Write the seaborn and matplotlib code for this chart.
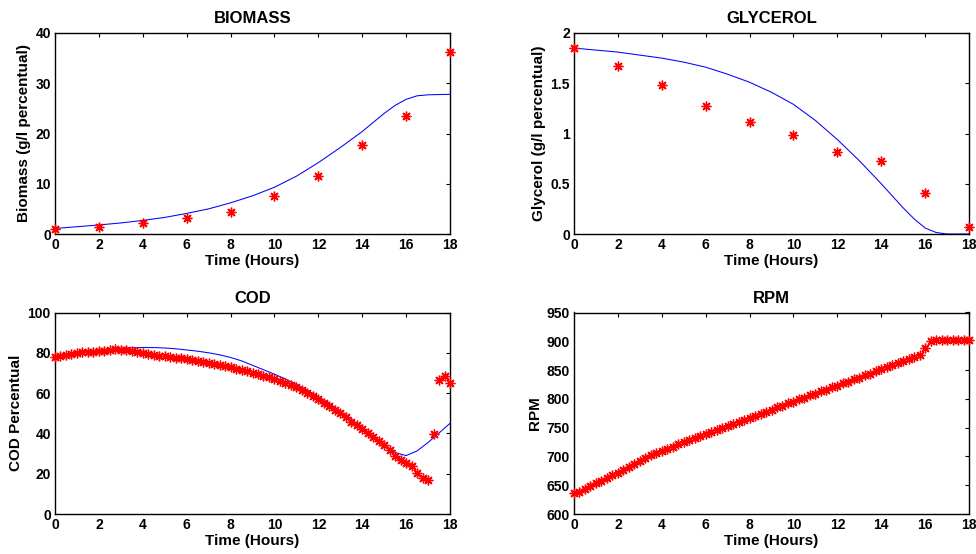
import numpy as np
import pandas as pd
import matplotlib
matplotlib.use("Agg")
import matplotlib.pyplot as plt
import seaborn as sns

# Sampling times (hours)
t_meas = [0, 2, 4, 6, 8, 10, 12, 14, 16, 18]
t_online = [0, 0.25, 0.5, 0.75, 1, 1.25, 1.5, 1.75, 2, 2.25, 2.5, 2.75, 3, 3.25, 3.5, 3.75,
            4, 4.25, 4.5, 4.75, 5, 5.25, 5.5, 5.75, 6, 6.25, 6.5, 6.75, 7, 7.25, 7.5, 7.75,
            8, 8.25, 8.5, 8.75, 9, 9.25, 9.5, 9.75, 10, 10.25, 10.5, 10.75, 11, 11.25, 11.5,
            11.75, 12, 12.25, 12.5, 12.75, 13, 13.25, 13.5, 13.75, 14, 14.25, 14.5, 14.75,
            15, 15.25, 15.5, 15.75, 16, 16.25, 16.5, 16.75, 17, 17.25, 17.5, 17.75, 18]

# Biomass
biomass_meas = [0.93, 1.33, 2.26, 3.26, 4.32, 7.5, 11.5, 17.7, 23.4, 36.3]
t_biomass_model = [0, 1, 2, 3, 4, 5, 6, 7, 8, 9, 10, 11, 12, 13, 14, 15, 15.5, 16, 16.5, 17, 18]
biomass_model = [1.1, 1.45, 1.8, 2.2, 2.7, 3.3, 4.1, 5.0, 6.2, 7.6, 9.3, 11.5, 14.2, 17.2,
                 20.4, 24.0, 25.6, 26.8, 27.5, 27.7, 27.8]

# Glycerol
glycerol_meas = [1.85, 1.67, 1.48, 1.27, 1.11, 0.99, 0.82, 0.73, 0.41, 0.07]
t_glycerol_model = [0, 1, 2, 3, 4, 5, 6, 7, 8, 9, 10, 11, 12, 13, 14, 15, 15.5, 16, 16.5, 17, 18]
glycerol_model = [1.85, 1.83, 1.81, 1.78, 1.75, 1.71, 1.66, 1.59, 1.51, 1.41, 1.29, 1.13,
                  0.94, 0.73, 0.50, 0.26, 0.15, 0.06, 0.015, 0.0, 0.0]

# COD
cod_meas = [78.0, 78.3, 79.0, 79.5, 80.0, 80.2, 80.4, 80.6, 80.8, 81.0, 81.6, 82.0, 81.5,
            81.2, 80.8, 80.3, 79.9, 79.4, 79.0, 78.6, 78.2, 77.8, 77.5, 77.2, 76.9, 76.5,
            76.0, 75.5, 75.0, 74.6, 74.1, 73.6, 72.9, 72.2, 71.6, 70.9, 70.2, 69.6, 68.7,
            67.8, 67.0, 66.2, 65.2, 64.2, 62.8, 61.5, 60.1, 58.6, 57.0, 55.3, 53.6, 51.8,
            49.9, 47.9, 45.9, 44.2, 42.2, 40.2, 38.0, 36.0, 34.0, 31.6, 29.0, 26.7, 25.2,
            23.7, 20.5, 18.1, 17.1, 39.9, 66.4, 68.5, 65.0]
t_cod_model = [0, 0.5, 1, 1.5, 2, 2.5, 3, 3.5, 4, 4.5, 5, 5.5, 6, 6.5, 7, 7.5, 8, 8.5, 9,
               9.5, 10, 10.5, 11, 11.5, 12, 12.5, 13, 13.5, 14, 14.5, 15, 15.5, 16, 16.5,
               17, 17.5, 18]
cod_model = [78.0, 79.0, 80.0, 80.7, 81.3, 81.8, 82.2, 82.5, 82.6, 82.6, 82.4, 82.0, 81.4,
             80.8, 80.0, 79.0, 77.7, 76.0, 73.8, 71.6, 69.4, 67.0, 64.3, 61.4, 58.2, 54.8,
             51.0, 47.0, 42.8, 38.6, 34.4, 30.5, 29.0, 31.3, 35.5, 40.2, 45.0]

# RPM
rpm_meas = [637, 638, 643, 648, 653, 658, 663, 667, 672, 677, 682, 687, 692, 697, 702, 706,
            709, 713, 717, 721, 725, 728, 732, 735, 739, 743, 746, 750, 753, 757, 760, 764,
            767, 771, 774, 778, 781, 785, 788, 792, 795, 799, 802, 806, 809, 813, 816, 820,
            823, 827, 830, 834, 837, 841, 844, 848, 851, 855, 858, 862, 865, 869, 872, 877,
            888, 901, 903, 903, 903, 903, 903, 903, 902]

x_ticks = [0, 2, 4, 6, 8, 10, 12, 14, 16, 18]
biomass_ticks = [0, 10, 20, 30, 40]
glycerol_ticks = [0, 0.5, 1, 1.5, 2]
glycerol_labels = ["0", "0.5", "1", "1.5", "2"]
cod_ticks = [0, 20, 40, 60, 80, 100]
rpm_ticks = [600, 650, 700, 750, 800, 850, 900, 950]

sns.set_style("white")
plt.rcParams["font.family"] = ["Liberation Sans", "DejaVu Sans"]
plt.rcParams["font.weight"] = "bold"
plt.rcParams["axes.labelweight"] = "bold"
plt.rcParams["axes.titleweight"] = "bold"
plt.rcParams["text.color"] = "black"
plt.rcParams["axes.labelcolor"] = "black"
plt.rcParams["xtick.color"] = "black"
plt.rcParams["ytick.color"] = "black"

fig = plt.figure(figsize=(9.76, 5.54), dpi=100)
ax_bio = fig.add_axes([55 / 976, 1 - 234 / 554, 395 / 976, 201 / 554])
ax_gly = fig.add_axes([574 / 976, 1 - 234 / 554, 395 / 976, 201 / 554])
ax_cod = fig.add_axes([55 / 976, 1 - 514 / 554, 395 / 976, 201.5 / 554])
ax_rpm = fig.add_axes([574 / 976, 1 - 514 / 554, 395 / 976, 201.5 / 554])

asterisk = (8, 2, 0)


def draw(ax, t_m, y_m, t_line, y_line, title, ylabel, yticks, ylabels=None):
    if t_line is not None:
        sns.lineplot(x=t_line, y=y_line, ax=ax, color="blue", linewidth=0.75,
                     sort=False, estimator=None)
    sns.lineplot(x=t_m, y=y_m, ax=ax, color="red", linestyle="", marker=asterisk,
                 markersize=7, markeredgewidth=1.0, markeredgecolor="red",
                 sort=False, estimator=None, clip_on=False, zorder=3)
    ax.set_xlim(0, 18)
    ax.set_ylim(yticks[0], yticks[-1])
    ax.set_xticks(x_ticks)
    ax.set_xticklabels([str(v) for v in x_ticks])
    ax.set_yticks(yticks)
    ax.set_yticklabels(ylabels if ylabels else [str(v) for v in yticks])
    ax.tick_params(direction="in", length=3, width=0.8, top=True, right=True,
                   labelsize=10, pad=3, colors="black")
    for s in ax.spines.values():
        s.set_visible(True)
        s.set_color("black")
        s.set_linewidth(1.0)
    ax.set_title(title, fontsize=12, fontweight="bold", pad=7, color="black")
    ax.set_xlabel("Time (Hours)", fontsize=11, fontweight="bold", labelpad=1)
    ax.set_ylabel(ylabel, fontsize=11, fontweight="bold", labelpad=3)


draw(ax_bio, t_meas, biomass_meas, t_biomass_model, biomass_model,
     "BIOMASS", "Biomass (g/l percentual)", biomass_ticks)
draw(ax_gly, t_meas, glycerol_meas, t_glycerol_model, glycerol_model,
     "GLYCEROL", "Glycerol (g/l percentual)", glycerol_ticks, glycerol_labels)
draw(ax_cod, t_online, cod_meas, t_cod_model, cod_model,
     "COD", "COD Percentual", cod_ticks)
draw(ax_rpm, t_online, rpm_meas, None, None, "RPM", "RPM", rpm_ticks)

fig.savefig("out.png", dpi=100)
